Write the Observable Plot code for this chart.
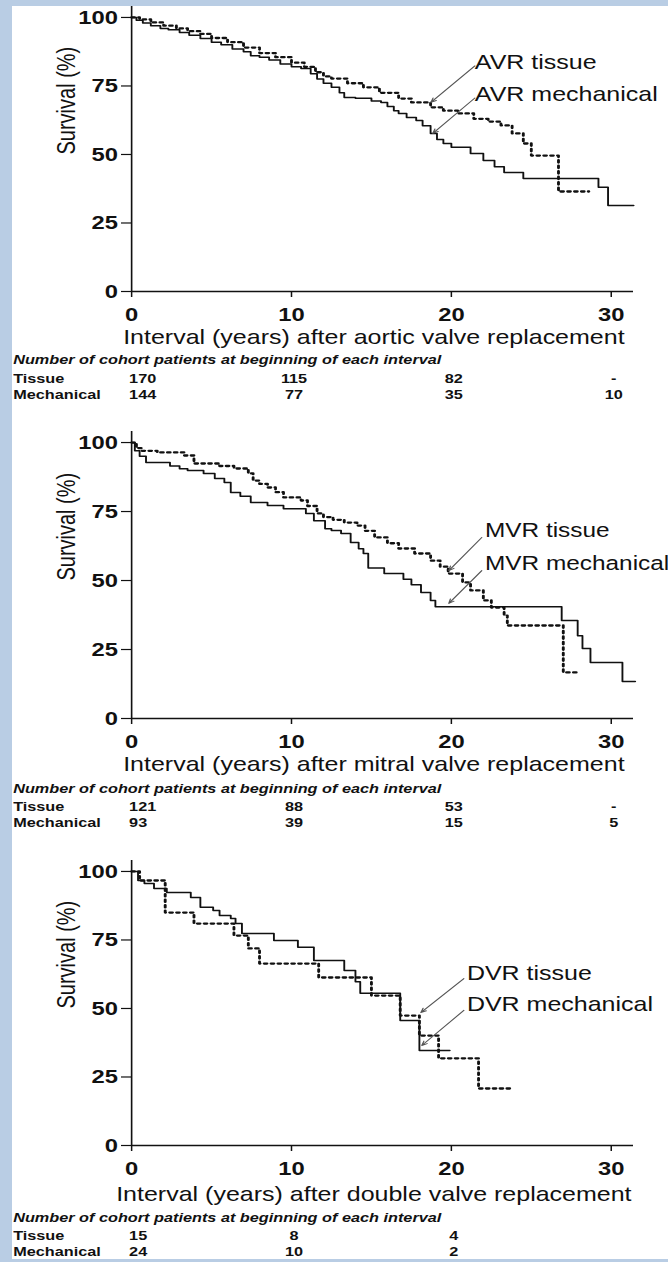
<!DOCTYPE html>
<html>
<head>
<meta charset="utf-8">
<script src="https://cdn.jsdelivr.net/npm/d3@7"></script>
<script src="https://cdn.jsdelivr.net/npm/@observablehq/plot@0.6"></script>
<style>
  html, body { margin: 0; padding: 0; background: #fff; width: 668px; height: 1262px; overflow: hidden; }
  #stage { position: absolute; left: 0; top: 0; width: 534px; padding-top: 6px; transform-origin: 0 0; }
  #stage svg { display: block; background: transparent; }
  .edge { position: absolute; background: #b9cde4; z-index: 5; }
</style>
</head>
<body>
<div id="stage"></div>
<div class="edge" style="left:0;top:0;width:12px;height:1262px"></div>
<div class="edge" style="left:0;top:0;width:668px;height:6px"></div>
<div class="edge" style="left:0;top:1259px;width:668px;height:3px"></div>
<script>
// ---------- DATA ----------
const xTicks = [0, 10, 20, 30];
const yTicks = [0, 25, 50, 75, 100];
const riskYears = [0, 10, 20, 30];

// AVR
const avrMechYears = [0, 0.3, 0.7, 1.2, 1.8, 2.3, 3.0, 3.6, 4.3, 5.0, 5.6, 6.3, 7.0, 7.45, 8.0, 8.6, 9.3, 10.0, 10.6, 11.2, 11.6, 12.0, 12.5, 13.0, 13.3, 14.0, 15.0, 15.6, 16.0, 16.4, 16.7, 17.2, 17.8, 18.2, 18.7, 19.1, 19.5, 20.0, 21.2, 22.0, 22.7, 23.3, 24.5, 29.2, 29.8, 31.4];
const avrMechSurv  = [100, 99, 98, 97, 96, 95.5, 94.5, 93.5, 92.3, 91, 90, 88.5, 87.5, 86, 85.5, 84.5, 83, 82, 81.4, 79.5, 77.5, 76, 74.5, 72.5, 70.8, 70.5, 69.5, 69, 67.5, 66, 65, 63.5, 62.4, 60.5, 57.7, 55.5, 54, 52.6, 50.4, 47.8, 45.5, 43.4, 41.2, 38, 31.4, 31.4];
const avrTissueYears = [0, 0.5, 1.2, 2.0, 2.8, 3.5, 4.3, 5.0, 6.0, 7.0, 8.0, 9.0, 10.0, 10.8, 11.5, 12.0, 12.5, 13.5, 14.5, 15.5, 16.7, 17.5, 18.7, 19.5, 20.4, 21.4, 22.3, 23.1, 23.8, 24.5, 25.0, 26.7, 28.6];
const avrTissueSurv  = [100, 99.3, 98.2, 97, 96, 95, 94, 92.5, 91, 89, 87, 85.5, 83.5, 82, 80, 78.5, 77.7, 76, 74.5, 72.5, 70.4, 69, 67.2, 66, 65, 63, 62, 60.6, 57.7, 54, 49.6, 36.5, 36.5];
const avrTissueRisk = ["170", "115", "82", "-"];
const avrMechRisk   = ["144", "77", "35", "10"];

// MVR
const mvrMechYears = [0, 0.2, 0.5, 0.9, 2.4, 3.0, 3.5, 4.5, 5.2, 5.8, 6.2, 6.8, 7.45, 8.5, 9.5, 10.9, 11.4, 12.1, 12.5, 13.1, 13.7, 14.2, 14.5, 14.8, 15.8, 17.0, 17.5, 18.1, 18.7, 19.0, 26.9, 27.9, 28.2, 28.7, 30.7, 31.5];
const mvrMechSurv  = [100, 97, 95, 92.8, 91.5, 90.5, 89.9, 88.8, 87, 85.5, 81.9, 80.5, 78.3, 77.2, 76, 74.3, 71.7, 68.8, 68.1, 67, 63.8, 61.5, 59.8, 54.5, 52.5, 50.5, 48.5, 45.7, 42.8, 40.5, 35.5, 30, 25.4, 20.3, 13.4, 13.4];
const mvrTissueYears = [0, 0.3, 0.6, 1.6, 3.3, 3.9, 5.5, 6.4, 7.3, 7.6, 8.0, 8.5, 9.0, 9.5, 10.6, 11.0, 11.6, 12.0, 12.6, 13.3, 14.1, 14.6, 15.2, 16.0, 16.7, 17.7, 18.7, 19.3, 19.8, 20.7, 21.2, 22.0, 22.5, 23.3, 23.5, 27.0, 28.0];
const mvrTissueSurv  = [100, 98, 97, 96.4, 95.3, 92.4, 91.5, 90.6, 88.8, 86.2, 85, 83.7, 82, 80.1, 79, 77, 74.3, 73, 72, 71, 69.9, 68, 65.6, 63.5, 61.6, 59.8, 57.2, 55, 52.5, 49.3, 46.4, 42.8, 40.2, 37.3, 33.7, 16.7, 16.7];
const mvrTissueRisk = ["121", "88", "53", "-"];
const mvrMechRisk   = ["93", "39", "15", "5"];

// DVR
const dvrMechYears = [0, 0.4, 0.8, 1.4, 2.2, 3.7, 4.3, 5.1, 5.5, 6.2, 6.5, 6.9, 8.9, 10.4, 11.4, 13.3, 14.0, 14.3, 16.8, 18.0, 19.9];
const dvrMechSurv  = [100, 96.7, 95.6, 93.8, 92.3, 90.5, 86.9, 85.8, 83.9, 82.8, 81, 77.4, 74.8, 72.3, 67.5, 63.9, 59.8, 55.6, 45.6, 34.7, 34.7];
const dvrTissueYears = [0, 0.5, 2.1, 3.9, 6.4, 7.3, 8.0, 11.7, 15.0, 16.8, 18.0, 19.2, 21.7, 23.9];
const dvrTissueSurv  = [100, 96.7, 85, 81, 76.6, 71.9, 66.4, 61.3, 54.7, 47.4, 40.1, 31.8, 20.8, 20.8];
const dvrTissueRisk = ["15", "8", "4"];
const dvrMechRisk   = ["24", "10", "2"];

const rowLabels = ["Tissue", "Mechanical"];
const tableTitle = "Number of cohort patients at beginning of each interval";
const yLabel = "Survival (%)";

// ---------- LAYOUT ----------
const PAGE_W = 668, INNER_W = 534, S = PAGE_W / INNER_W;
const FONT = "'Liberation Sans', Arial, Helvetica, sans-serif";

const panels = [
  {
    mechYears: avrMechYears, mechSurv: avrMechSurv, tisYears: avrTissueYears, tisSurv: avrTissueSurv,
    tisRisk: avrTissueRisk, mechRisk: avrMechRisk,
    xLabel: "Interval (years) after aortic valve replacement",
    tisName: "AVR tissue", mechName: "AVR mechanical",
    height: 425, marginBottom: 140, offs: [52, 72, 91, 107], labFont: 20,
    lab: {x: 21.47, yT: 83.6, yM: 71.9},
    arrT: [21.47, 82.3, 18.72, 69], arrM: [21.47, 70.6, 18.84, 57.7]
  },
  {
    mechYears: mvrMechYears, mechSurv: mvrMechSurv, tisYears: mvrTissueYears, tisSurv: mvrTissueSurv,
    tisRisk: mvrTissueRisk, mechRisk: mvrMechRisk,
    xLabel: "Interval (years) after mitral valve replacement",
    tisName: "MVR tissue", mechName: "MVR mechanical",
    height: 429, marginBottom: 142, offs: [52, 74, 92, 108], labFont: 19.5,
    lab: {x: 22.1, yT: 68.1, yM: 56.2},
    arrT: [21.9, 65.6, 19.84, 53.6], arrM: [21.9, 53.6, 19.84, 41.7]
  },
  {
    mechYears: dvrMechYears, mechSurv: dvrMechSurv, tisYears: dvrTissueYears, tisSurv: dvrTissueSurv,
    tisRisk: dvrTissueRisk, mechRisk: dvrMechRisk,
    xLabel: "Interval (years) after double valve replacement",
    tisName: "DVR tissue", mechName: "DVR mechanical",
    height: 402, marginBottom: 117, offs: [55, 76, 94, 110], labFont: 20,
    lab: {x: 20.97, yT: 62.8, yM: 51.5},
    arrT: [20.78, 60.9, 18.09, 48.5], arrM: [20.78, 49.3, 18.15, 36.5]
  }
];

function makePanel(p) {
  const mech = p.mechYears.map((t, i) => ({t, s: p.mechSurv[i]}));
  const tis = p.tisYears.map((t, i) => ({t, s: p.tisSurv[i]}));
  const tisRow = p.tisRisk.map((v, i) => ({x: riskYears[i], v}));
  const mechRow = p.mechRisk.map((v, i) => ({x: riskYears[i], v}));
  const arrows = [p.arrT, p.arrM].map(a => ({x1: a[0], y1: a[1], x2: a[2], y2: a[3]}));
  const labels = [{x: p.lab.x, y: p.lab.yT, t: p.tisName}, {x: p.lab.x, y: p.lab.yM, t: p.mechName}];
  const [oLab, oTitle, oT, oM] = p.offs;
  const rowFont = {fontSize: 13, fontWeight: "bold", fill: "#111"};
  const firstCol = d => d.x === 0;
  return Plot.plot({
    width: INNER_W,
    height: p.height,
    marginLeft: 131 / S,
    marginRight: INNER_W - 633 / S,
    marginTop: 0,
    marginBottom: p.marginBottom,
    x: {domain: [0, 31.4]},
    y: {domain: [0, 104]},
    style: {fontFamily: FONT, color: "#111", background: "transparent", overflow: "hidden"},
    marks: [
      Plot.axisX({ticks: xTicks, tickSize: 6, tickPadding: 10, fontSize: 19, fontWeight: "bold", label: null, strokeWidth: 1.2}),
      Plot.axisY({ticks: yTicks, tickSize: 8, tickPadding: 3, fontSize: 19, fontWeight: "bold", label: null, strokeWidth: 1.2}),
      Plot.ruleX([0], {stroke: "#111", strokeWidth: 1.3}),
      Plot.ruleY([0], {stroke: "#111", strokeWidth: 1.3}),
      Plot.line(mech, {x: "t", y: "s", curve: "step-after", stroke: "#111", strokeWidth: 1.5}),
      Plot.line(tis, {x: "t", y: "s", curve: "step-after", stroke: "#111", strokeWidth: 2.3, strokeDasharray: "2.3,3.2"}),
      Plot.arrow(arrows, {x1: "x1", y1: "y1", x2: "x2", y2: "y2", stroke: "#555", strokeWidth: 1, headLength: 7, headAngle: 45}),
      Plot.text(labels, {x: "x", y: "y", text: "t", textAnchor: "start", fontSize: p.labFont, fill: "#111"}),
      Plot.text([yLabel], {frameAnchor: "left", y: [50], text: d => d, rotate: -90, dx: 53 - 131 / S, fontSize: 20, fill: "#111"}),
      Plot.text([p.xLabel], {frameAnchor: "bottom", dx: -7, dy: oLab, fontSize: 20, fill: "#111"}),
      Plot.text([tableTitle], {frameAnchor: "bottom-left", textAnchor: "start", dx: 10 - 131 / S, dy: oTitle, fontSize: 13, fontWeight: "bold", fontStyle: "italic", fill: "#111"}),
      Plot.text(rowLabels.slice(0, 1), {frameAnchor: "bottom-left", textAnchor: "start", dx: 10 - 131 / S, dy: oT, ...rowFont}),
      Plot.text(rowLabels.slice(1), {frameAnchor: "bottom-left", textAnchor: "start", dx: 10 - 131 / S, dy: oM, ...rowFont}),
      Plot.text(tisRow.filter(firstCol), {x: "x", frameAnchor: "bottom", text: "v", textAnchor: "start", dx: -2, dy: oT, ...rowFont}),
      Plot.text(tisRow.filter(d => !firstCol(d)), {x: "x", frameAnchor: "bottom", text: "v", dx: 2, dy: oT, ...rowFont}),
      Plot.text(mechRow.filter(firstCol), {x: "x", frameAnchor: "bottom", text: "v", textAnchor: "start", dx: -2, dy: oM, ...rowFont}),
      Plot.text(mechRow.filter(d => !firstCol(d)), {x: "x", frameAnchor: "bottom", text: "v", dx: 2, dy: oM, ...rowFont})
    ]
  });
}

const stage = document.getElementById("stage");
stage.style.transform = `scaleX(${S})`;
for (const p of panels) stage.appendChild(makePanel(p));
</script>
</body>
</html>
